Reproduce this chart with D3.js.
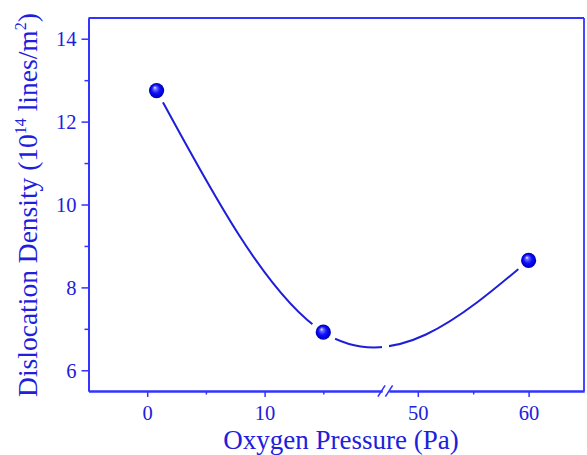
<!DOCTYPE html>
<html><head><meta charset="utf-8">
<script src="https://cdn.jsdelivr.net/npm/d3@7"></script>
<style>
html,body{margin:0;padding:0;background:#fff;}
svg{display:block;}
text{font-family:"Liberation Serif","Times New Roman",serif;}
</style></head>
<body>
<svg id="chart" width="587" height="455"></svg>
<script>
// ---- data ----
const pressures = [0.8, 15, 60];            // Pa
const densities = [12.75, 6.92, 8.65];      // 10^14 lines/m^2
const xMajorTicks1 = [0, 10];
const xMajorTicks2 = [50, 60];
const xMinorTicks1 = [5, 15];
const xMinorTicks2 = [55];
const yMajorTicks = [6, 8, 10, 12, 14];
const yMinorTicks = [7, 9, 11, 13];
const xTitle = "Oxygen Pressure (Pa)";

const textColor = "#2020dc";
const axisColor = "#3333ff";
const lineColor = "#1e1ed8";

const svg = d3.select("#chart");
const L = 88.5, R = 584, T = 18, B = 391;
const breakL = 382, breakR = 389;

const x1 = d3.scaleLinear().domain([-5, 20]).range([L, breakL]);
const x2 = d3.scaleLinear().domain([47.4, 65]).range([breakR, R]);
const xpos = v => (v <= 20 ? x1(v) : x2(v));
const y = d3.scaleLinear().domain([5.5, 14.5]).range([B, T]);

// custom curve: natural cubic spline with y as a function of x
function NaturalX(ctx){ this._context = ctx; }
NaturalX.prototype = {
  areaStart(){}, areaEnd(){},
  lineStart(){ this._x = []; this._y = []; },
  point(px, py){ this._x.push(+px); this._y.push(+py); },
  lineEnd(){
    const X = this._x, Y = this._y, n = X.length, c = this._context;
    if (!n) return;
    c.moveTo(X[0], Y[0]);
    if (n === 2) { c.lineTo(X[1], Y[1]); return; }
    const h = [], M = new Array(n).fill(0);
    for (let i = 0; i < n - 1; i++) h.push(X[i+1] - X[i]);
    const a = [], b = [], cc = [], d = [];
    for (let i = 1; i < n - 1; i++) {
      a.push(h[i-1]); b.push(2*(h[i-1]+h[i])); cc.push(h[i]);
      d.push(6*((Y[i+1]-Y[i])/h[i] - (Y[i]-Y[i-1])/h[i-1]));
    }
    const m = b.length;
    for (let i = 1; i < m; i++) {
      const w = a[i] / b[i-1];
      b[i] -= w * cc[i-1]; d[i] -= w * d[i-1];
    }
    const sol = new Array(m);
    sol[m-1] = d[m-1] / b[m-1];
    for (let i = m - 2; i >= 0; i--) sol[i] = (d[i] - cc[i]*sol[i+1]) / b[i];
    for (let i = 0; i < m; i++) M[i+1] = sol[i];
    for (let i = 0; i < n - 1; i++) {
      const hi = h[i], s = (Y[i+1]-Y[i])/hi;
      const dl = s - hi*(2*M[i] + M[i+1])/6;
      const dr = s + hi*(M[i] + 2*M[i+1])/6;
      c.bezierCurveTo(X[i] + hi/3, Y[i] + dl*hi/3, X[i+1] - hi/3, Y[i+1] - dr*hi/3, X[i+1], Y[i+1]);
    }
  }
};
const curveNaturalX = ctx => new NaturalX(ctx);

const data = pressures.map((p, i) => ({p, v: densities[i]}));

// defs
const defs = svg.append("defs");
const grad = defs.append("radialGradient").attr("id", "ball")
  .attr("cx", "0.5").attr("cy", "0.5").attr("r", "0.5").attr("fx", "0.38").attr("fy", "0.3");
grad.append("stop").attr("offset", "0").attr("stop-color", "#f0f0ff");
grad.append("stop").attr("offset", "0.22").attr("stop-color", "#6a6aff");
grad.append("stop").attr("offset", "0.55").attr("stop-color", "#1010fa");
grad.append("stop").attr("offset", "0.85").attr("stop-color", "#0000d8");
grad.append("stop").attr("offset", "1").attr("stop-color", "#0000a8");

const mask = defs.append("mask").attr("id", "lineMask").attr("maskUnits", "userSpaceOnUse")
  .attr("x", 0).attr("y", 0).attr("width", 587).attr("height", 455);
mask.append("rect").attr("width", 587).attr("height", 455).attr("fill", "#fff");
mask.selectAll("circle").data(data).join("circle")
  .attr("cx", d => xpos(d.p)).attr("cy", d => y(d.v)).attr("r", 13.5).attr("fill", "#000");
mask.append("rect").attr("x", breakL).attr("y", T).attr("width", breakR - breakL).attr("height", B - T).attr("fill", "#000");

// curve
svg.append("path").datum(data)
  .attr("d", d3.line().x(d => xpos(d.p)).y(d => y(d.v)).curve(curveNaturalX))
  .attr("fill", "none").attr("stroke", lineColor).attr("stroke-width", 2)
  .attr("mask", "url(#lineMask)");

// frame (top and right)
svg.append("line").attr("x1", L).attr("x2", R).attr("y1", T).attr("y2", T)
  .attr("stroke", axisColor).attr("stroke-width", 1.8);
svg.append("line").attr("x1", R).attr("x2", R).attr("y1", T).attr("y2", B)
  .attr("stroke", axisColor).attr("stroke-width", 1.8);

function styleAxis(g){
  g.select(".domain").attr("stroke", axisColor).attr("stroke-width", 1.8);
  g.selectAll(".tick line").attr("stroke", axisColor).attr("stroke-width", 1.5);
  g.selectAll(".tick text").attr("fill", textColor).attr("font-size", 20.5)
    .attr("font-family", "Liberation Serif, Times New Roman, serif");
}

// x axes (two segments)
[[x1, xMajorTicks1, xMinorTicks1], [x2, xMajorTicks2, xMinorTicks2]].forEach(([sc, maj, min]) => {
  const gMin = svg.append("g").attr("transform", `translate(0,${B})`)
    .call(d3.axisBottom(sc).tickValues(min).tickSize(3.5).tickFormat("").tickSizeOuter(0));
  styleAxis(gMin);
  const gMaj = svg.append("g").attr("transform", `translate(0,${B})`)
    .call(d3.axisBottom(sc).tickValues(maj).tickSize(6).tickSizeOuter(0).tickFormat(d3.format("d")));
  styleAxis(gMaj);
  gMaj.selectAll(".tick text").attr("y", 28.5).attr("dy", null);
});
// break marks
[breakL - 0.5, breakR].forEach(cx => {
  svg.append("line").attr("x1", cx - 3.6).attr("y1", B + 5.6).attr("x2", cx + 3.6).attr("y2", B - 5.6)
    .attr("stroke", axisColor).attr("stroke-width", 1.6);
});

// y axis
const gyMin = svg.append("g").attr("transform", `translate(${L},0)`)
  .call(d3.axisLeft(y).tickValues(yMinorTicks).tickSize(4).tickFormat("").tickSizeOuter(0));
styleAxis(gyMin);
const gy = svg.append("g").attr("transform", `translate(${L},0)`)
  .call(d3.axisLeft(y).tickValues(yMajorTicks).tickSize(7).tickSizeOuter(0).tickFormat(d3.format("d")));
styleAxis(gy);
gy.selectAll(".tick text").attr("x", -12).attr("dy", "0.34em");

// markers
svg.selectAll("circle.pt").data(data).join("circle").attr("class", "pt")
  .attr("cx", d => xpos(d.p)).attr("cy", d => y(d.v)).attr("r", 7.6)
  .attr("fill", "url(#ball)");

// titles
svg.append("text").attr("x", 341).attr("y", 449).attr("text-anchor", "middle")
  .attr("font-size", 27).attr("fill", textColor).text(xTitle);

const yt = svg.append("text").attr("transform", "translate(37,205) rotate(-90)")
  .attr("text-anchor", "middle").attr("font-size", 27.5).attr("fill", textColor);
yt.append("tspan").text("Dislocation Density (10");
yt.append("tspan").attr("font-size", 16).attr("dy", -11).text("14");
yt.append("tspan").attr("dy", 11).text(" lines/m");
yt.append("tspan").attr("font-size", 16).attr("dy", -11).text("2");
yt.append("tspan").attr("dy", 11).text(")");
</script>
</body></html>
